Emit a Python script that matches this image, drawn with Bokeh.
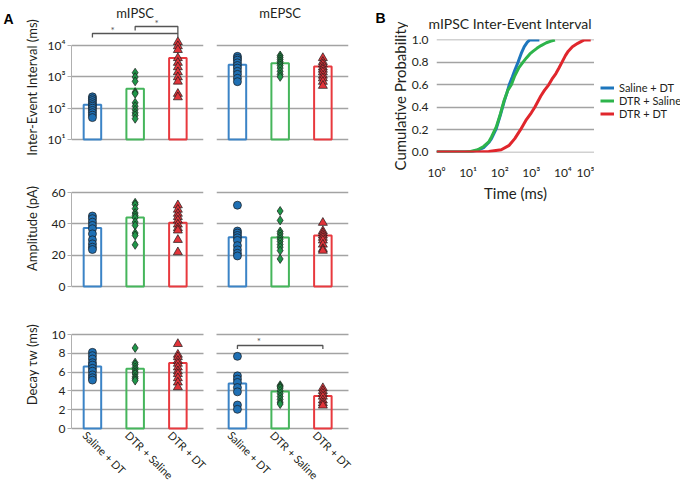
import math
from bokeh.plotting import figure
from bokeh.layouts import row, column, Spacer
from bokeh.models import (Range1d, FixedTicker, Legend, LegendItem,
                          CustomJSTickFormatter, PrintfTickFormatter)
from bokeh.core.properties import value
from bokeh.embed import file_html
from bokeh.resources import INLINE

FONT = "Lato"
TXT = "#231f20"
GRID = "#a3a3a3"
H = 480

# ---------------- data ----------------
groups = ["Saline + DT", "DTR + Saline", "DTR + DT"]
group_x = [0, 1, 2]

# Inter-event interval (ms)
iei_mipsc_mean = [128, 417, 3980]
iei_mipsc_pts = [
    [230, 200, 175, 150, 130, 115, 100, 85, 72, 60, 50],
    [1350, 980, 720, 325, 290, 148, 115, 89, 71, 59, 46],
    [12900, 9550, 7240, 3980, 2820, 2040, 1410, 977, 708, 288, 224],
]
iei_mepsc_mean = [2420, 2720, 2140]
iei_mepsc_pts = [
    [4500, 3900, 3400, 2800, 2300, 1900, 1500, 1200, 900, 700],
    [4800, 4200, 3600, 3100, 2700, 2300, 1900, 1500, 1200, 1000],
    [4000, 3000, 2500, 2000, 1700, 1400, 1100, 900, 700, 520],
]
# Amplitude (pA)
amp_mipsc_mean = [37.3, 44.1, 40.7]
amp_mipsc_pts = [
    [45, 43.3, 41.1, 39, 36.9, 33.6, 29.8, 27.2, 25.1, 23.6],
    [53.4, 52.3, 49.7, 46.9, 45.4, 43.9, 41.1, 39, 34.1, 32.6, 26.6],
    [51.9, 49.1, 46.5, 44.4, 42.2, 39.6, 37.3, 35.8, 29.8, 21.9],
]
amp_mepsc_mean = [31.5, 31.3, 32.6]
amp_mepsc_pts = [
    [51.9, 35.4, 34.1, 32.6, 31.1, 29.4, 26.1, 23.4, 21.2, 19.5],
    [48.2, 42.2, 35.1, 33.6, 31.9, 30.2, 28.7, 26.8, 25.1, 22.9, 17.6],
    [40.7, 35.4, 34.1, 32.6, 31.1, 29.4, 26.8, 24.0, 22.9],
]
# Decay tau_w (ms)
dec_mipsc_mean = [6.6, 6.36, 6.96]
dec_mipsc_pts = [
    [8.1, 7.75, 7.4, 7.0, 6.75, 6.4, 6.1, 5.7, 5.4, 5.15],
    [8.57, 7.0, 6.8, 6.5, 6.25, 6.0, 5.8, 5.5, 5.3, 5.1],
    [9.0, 7.86, 7.6, 7.2, 6.9, 6.5, 6.1, 5.8, 5.36, 4.9, 4.4],
]
dec_mepsc_mean = [4.8, 3.93, 3.46]
dec_mepsc_pts = [
    [7.68, 5.6, 5.25, 4.9, 4.36, 3.9, 2.5, 2.04],
    [4.6, 4.45, 4.3, 4.0, 3.7, 3.4, 3.1, 2.8, 2.6],
    [4.3, 4.0, 3.7, 3.4, 3.0, 2.7, 2.45],
]

# significance brackets: (x_left, x_right, y_line, y_left_tick, y_right_tick, star_x, star_y)
brackets_iei_mipsc = [
    (0, 2, 24150, 18000, 18000, 0.47, 32400),
    (1, 2, 40400, 30100, 24150, 1.5, 50400),
]
brackets_dec_mepsc = [(0, 2, 8.83, 8.46, 8.46, 0.5, 9.36)]

# tick values / labels
iei_ticks = [10, 100, 1000, 10000]
iei_labels = ["10\u00b9", "10\u00b2", "10\u00b3", "10\u2074"]
amp_ticks = [0, 20, 40, 60]
dec_ticks = [0, 2, 4, 6, 8, 10]

# Panel B: cumulative distributions (time in ms, cumulative probability)
cdf_blue_t = [1, 10, 14, 20, 31, 45, 55, 78, 105, 138, 170, 200, 250, 300, 380, 480, 600, 750, 900, 1800]
cdf_blue_p = [0, 0, 0.005, 0.015, 0.04, 0.085, 0.12, 0.21, 0.33, 0.45, 0.53, 0.60, 0.67, 0.73, 0.80, 0.88, 0.94, 0.98, 1.0, 1.0]
cdf_green_t = [1, 8, 12, 20, 31, 45, 55, 78, 105, 138, 180, 234, 300, 400, 540, 700, 900, 1150, 1500, 2040, 3000, 4200, 5600]
cdf_green_p = [0, 0, 0.005, 0.02, 0.05, 0.09, 0.135, 0.225, 0.34, 0.46, 0.55, 0.60, 0.68, 0.75, 0.80, 0.84, 0.875, 0.90, 0.925, 0.95, 0.975, 0.99, 1.0]
cdf_red_t = [1, 20, 45, 112, 200, 300, 457, 700, 1000, 1290, 2000, 2600, 3550, 4500, 6000, 7500, 9300, 12000, 14800, 20000, 29500, 40000, 48000, 76000]
cdf_red_p = [0, 0, 0.005, 0.02, 0.06, 0.12, 0.20, 0.29, 0.35, 0.40, 0.50, 0.55, 0.60, 0.65, 0.70, 0.75, 0.80, 0.86, 0.90, 0.94, 0.97, 0.99, 1.0, 1.0]
time_ticks = [1, 10, 100, 1000, 10000, 100000]
time_labels = ["10\u2070", "10\u00b9", "10\u00b2", "10\u00b3", "10\u2074", "10\u2075"]
prob_ticks = [0, 0.2, 0.4, 0.6, 0.8, 1.0]

# ---------------- styles ----------------
bar_colors = ["#3b83c6", "#45b55b", "#e8393e"]
pt_colors = ["#1f70b4", "#1f9649", "#e1343a"]
markers = ["circle", "diamond", "triangle"]
sizes = [8, 9, 9]
line_colors = ["#1d76bd", "#2db44b", "#e0262c"]
XLO, XHI = -0.49, 2.6
PXU = 132 / (XHI - XLO)          # pixels per category unit

log_formatter_code = """
let best = 0, bd = Infinity;
for (let i = 0; i < vals.length; i++) {
  const d = Math.abs(Math.log10(vals[i]) - Math.log10(tick));
  if (d < bd) { bd = d; best = i; }
}
return labels[best];
"""


def make_fig(w, h, bl, br, bt, bb, x_range, y_range, ticks, log=False, show_y=False):
    p = figure(width=w, height=h, x_range=x_range, y_range=y_range,
               y_axis_type="log" if log else "linear",
               x_axis_location=None, y_axis_location="left" if show_y else None,
               min_border_left=bl, min_border_right=br, min_border_top=bt, min_border_bottom=bb,
               title=None, output_backend="svg", toolbar_location=None)
    p.outline_line_color = None
    p.xgrid.grid_line_color = None
    p.ygrid.ticker = FixedTicker(ticks=ticks)
    p.ygrid.grid_line_color = GRID
    p.ygrid.grid_line_width = 1.5
    g = p.ygrid[0]
    try:
        g.cross_bounds = (XLO, XHI)
    except Exception:
        g.grid_line_color = None
        p.segment(x0=[XLO] * len(ticks), x1=[XHI] * len(ticks), y0=ticks, y1=ticks,
                  line_color=GRID, line_width=1.5, level="underlay")
    if show_y:
        ax = p.yaxis[0]
        ax.ticker = FixedTicker(ticks=ticks)
        ax.bounds = (ticks[0], ticks[-1])
        ax.axis_line_color = "#b0b0b0"
        ax.major_tick_line_color = "#b0b0b0"
        ax.major_tick_in = 0
        ax.major_tick_out = 4
        ax.minor_tick_line_color = None
        ax.major_label_standoff = 2
        ax.major_label_text_font = FONT
        ax.major_label_text_font_size = "12px"
        ax.major_label_text_color = TXT
    return p


def draw_groups(p, means, pts_list, base):
    p.vbar(x=group_x, top=means, bottom=base, width=0.41, fill_color=None,
           line_color=bar_colors, line_width=2)
    for i, pts in enumerate(pts_list):
        p.scatter(x=[group_x[i]] * len(pts), y=pts, marker=markers[i], size=sizes[i],
                  fill_color=pt_colors[i], line_color="#1a1a1a", line_width=0.7)


def draw_brackets(p, brs):
    for (xl, xr, yl, ytl, ytr, sx, sy) in brs:
        p.line(x=[xl, xl, xr, xr], y=[ytl, yl, yl, ytr], line_color="#555555", line_width=1.3)
        p.text(x=[sx], y=[sy], text=["*"], text_align="center", text_baseline="middle",
               text_font_size="10px", text_color="#555555", text_font=value(FONT))


def strip(w, h):
    p = figure(width=w, height=h, x_range=Range1d(0, w), y_range=Range1d(0, h),
               x_axis_location=None, y_axis_location=None,
               min_border_left=0, min_border_right=0, min_border_top=0, min_border_bottom=0,
               title=None, output_backend="svg", toolbar_location=None)
    p.outline_line_color = None
    p.xgrid.grid_line_color = None
    p.ygrid.grid_line_color = None
    return p


def put_text(p, x, y, t, size, angle=0.0, align="center", baseline="middle",
             font=FONT, style="normal", color=TXT):
    p.text(x=[x], y=[y], text=[t], angle=angle, text_align=align, text_baseline=baseline,
           text_font=value(font), text_font_style=style, text_font_size=size,
           text_color=color)


# ---------------- left strip: panel letter + axis titles ----------------
SLW = 44
sL = strip(SLW, H)
put_text(sL, 3, H - 18, "A", "14px", align="left", font="Liberation Sans", style="bold",
         color="#000000")
put_text(sL, 31, H - 87, "Inter-Event Interval (ms)", "13px", angle=math.pi / 2)
put_text(sL, 31, H - 228, "Amplitude (pA)", "13px", angle=math.pi / 2)
put_text(sL, 31, H - 364, "Decay \u03c4w (ms)", "13px", angle=math.pi / 2)

# ---------------- panel A ----------------
W1, W2 = 169, 149
# row 1 : inter-event interval (log) ; frame 0..141, 10^4 at y=45, 10^1 at y=139
dec_px = 94 / 3.0
yr1 = (10 ** (1 - 2 / dec_px), 10 ** (4 + 45 / dec_px))
a11 = make_fig(W1, 165, 27, 10, 0, 24, Range1d(XLO, XHI), Range1d(*yr1), iei_ticks,
               log=True, show_y=True)
a11.yaxis[0].formatter = CustomJSTickFormatter(args=dict(vals=iei_ticks, labels=iei_labels),
                                               code=log_formatter_code)
a12 = make_fig(W2, 165, 3, 14, 0, 24, Range1d(XLO, XHI), Range1d(*yr1), iei_ticks, log=True)
draw_groups(a11, iei_mipsc_mean, iei_mipsc_pts, iei_ticks[0])
draw_groups(a12, iei_mepsc_mean, iei_mepsc_pts, iei_ticks[0])
draw_brackets(a11, brackets_iei_mipsc)
title_y = 10 ** (4 + 33 / dec_px)
for p, t in ((a11, "mIPSC"), (a12, "mEPSC")):
    p.text(x=[1], y=[title_y], text=[t], text_align="center", text_baseline="alphabetic",
           text_font=value(FONT), text_font_size="13px", text_color=TXT)

# row 2 : amplitude ; frame 190..288, 60 at 192, 0 at 286
amp_px = 94 / 60.0
yr2 = (-2 / amp_px, 60 + 2 / amp_px)
a21 = make_fig(W1, 145, 27, 10, 25, 22, Range1d(XLO, XHI), Range1d(*yr2), amp_ticks, show_y=True)
a22 = make_fig(W2, 145, 3, 14, 25, 22, Range1d(XLO, XHI), Range1d(*yr2), amp_ticks)
draw_groups(a21, amp_mipsc_mean, amp_mipsc_pts, 0)
draw_groups(a22, amp_mepsc_mean, amp_mepsc_pts, 0)

# row 3 : decay ; frame 332..H, 10 at 334, 0 at 428 (labels hang below inside the frame)
d_px = 94 / 10.0
H3 = H - 310
yr3 = (-(H - 428) / d_px, 10 + 2 / d_px)
a31 = make_fig(W1, H3, 27, 0, 22, 0, Range1d(XLO, XHI + 10 / PXU), Range1d(*yr3), dec_ticks,
               show_y=True)
a32 = make_fig(W2, H3, 0, 0, 22, 0, Range1d(XLO - 3 / PXU, XHI + 14 / PXU), Range1d(*yr3),
               dec_ticks)
draw_groups(a31, dec_mipsc_mean, dec_mipsc_pts, 0)
draw_groups(a32, dec_mepsc_mean, dec_mepsc_pts, 0)
draw_brackets(a32, brackets_dec_mepsc)
for p in (a31, a32):
    p.text(x=group_x, y=[0, 0, 0], text=groups, angle=-math.pi / 4, x_offset=-3,
           text_align="left", text_baseline="top", text_font=value(FONT),
           text_font_size="11px", text_color=TXT)

# ---------------- panel B ----------------
X0B = 362                # left edge of the B block
SMW = 408 - X0B          # strip holding "B" and the y-axis title
sM = strip(SMW, H)
put_text(sM, 375 - X0B, H - 17, "B", "14px", align="left", font="Liberation Sans",
         style="bold", color="#000000")
put_text(sM, 399 - X0B, H - 95.5, "Cumulative Probability", "15px", angle=math.pi / 2)

X1B = X0B + SMW
RW = 680 - X1B
TOPH = 30
sT = strip(RW, TOPH)
put_text(sT, 509.5 - X1B, TOPH - 22.5, "mIPSC Inter-Event Interval", "14px",
         baseline="alphabetic")

PBW = 594 - X1B
pb = figure(width=PBW, height=H - TOPH, x_axis_type="log", x_range=Range1d(1, 1e5),
            y_range=Range1d(-0.004, 1.004), min_border_left=429 - X1B, min_border_right=0,
            min_border_top=39 - TOPH, min_border_bottom=H - 152, title=None,
            output_backend="svg", toolbar_location=None)
pb.outline_line_color = None
pb.xgrid.grid_line_color = None
pb.ygrid.ticker = FixedTicker(ticks=prob_ticks)
pb.ygrid.grid_line_color = GRID
pb.ygrid.grid_line_width = 1.5
for ax in (pb.xaxis[0], pb.yaxis[0]):
    ax.axis_line_color = None
    ax.major_tick_line_color = None
    ax.minor_tick_line_color = None
    ax.major_label_text_font = FONT
    ax.major_label_text_font_size = "12px"
    ax.major_label_text_color = TXT
    ax.axis_label_text_font = FONT
    ax.axis_label_text_font_size = "15px"
    ax.axis_label_text_font_style = "normal"
    ax.axis_label_text_color = TXT
pb.yaxis[0].ticker = FixedTicker(ticks=prob_ticks)
pb.yaxis[0].formatter = PrintfTickFormatter(format="%.1f")
pb.yaxis[0].major_label_standoff = 2
pb.xaxis[0].ticker = FixedTicker(ticks=time_ticks)
pb.xaxis[0].formatter = CustomJSTickFormatter(args=dict(vals=time_ticks, labels=time_labels),
                                              code=log_formatter_code)
pb.xaxis[0].major_label_standoff = 6
pb.xaxis[0].axis_label = "Time (ms)"
pb.xaxis[0].axis_label_standoff = 1

cdf_series = [(cdf_blue_t, cdf_blue_p), (cdf_green_t, cdf_green_p), (cdf_red_t, cdf_red_p)]
for (t, pr), c in zip(cdf_series, line_colors):
    pb.line(t, pr, line_color=c, line_width=3)

# legend lives in its own strip to the right of the B frame (hidden twins of the curves)
LGW = RW - PBW
LG_TOP = 75                       # page y where the legend strip starts
sLg = strip(LGW, H - LG_TOP)
items = []
for (t, pr), g, c in zip(cdf_series, groups, line_colors):
    r = sLg.line(t, pr, line_color=c, line_width=3, visible=False)
    items.append(LegendItem(label=g, renderers=[r]))
legend = Legend(items=items, location="top_left", orientation="vertical",
                label_text_font=FONT, label_text_font_size="11px", label_text_color=TXT,
                glyph_width=14, glyph_height=13, label_height=13, label_standoff=5,
                spacing=0, padding=0, margin=6, border_line_color=None,
                background_fill_alpha=0)
sLg.add_layout(legend)

colA = column(row(a11, a12), row(a21, a22), row(a31, a32))
legend_col = column(Spacer(width=LGW, height=LG_TOP - TOPH), sLg)
colB = row(sM, column(sT, row(pb, legend_col)))
layout = row(sL, colA, colB)

with open("out.html", "w") as f:
    f.write(file_html(layout, INLINE))
